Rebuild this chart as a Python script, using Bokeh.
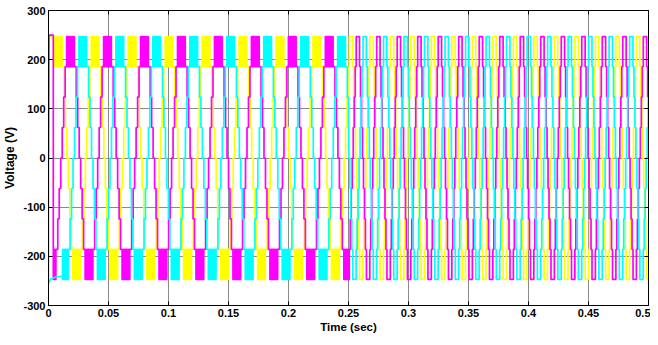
import numpy as np
from bokeh.plotting import figure
from bokeh.models import LinearAxis, FixedTicker, Range1d
from bokeh.embed import file_html
from bokeh.resources import INLINE

# ---- values ----
LEVELS = [0, 62, 124, 186, 247]          # staircase levels (V)
# first part (0 - 0.25 s)
T1 = 0.0308        # period (s)
PEAK1 = 0.0185     # centre of first magenta positive block (s)
TOP1 = 0.22        # fraction of period in chopped top / bottom block
STEP1 = 0.04       # fraction of period per intermediate level
CHOP1 = 10         # pulses inside a chopped block
# second part (0.25 - 0.5 s)
T_SWITCH = 0.25
T2 = 0.01709
PEAK2 = 0.2578
TOP2 = 0.164
STEP2 = 0.048
CHOP2 = 0
T_END = 0.5
# phase offsets, as fraction of a period after the magenta phase
PHASES = {"yellow": 2 / 3, "magenta": 0.0, "cyan": 1 / 3}
COLORS = {"yellow": "#FFFF00", "magenta": "#FF00FF", "cyan": "#00FFFF"}
# start-up transients (time in s, volts)
TRANSIENT_T = {
    "yellow": [0.0, 0.0, 0.002, 0.005],
    "magenta": [0.0, 0.0004, 0.004],
    "cyan": [0.0, 0.0, 0.002, 0.006, 0.0116],
}
TRANSIENT_V = {
    "yellow": [0, 252, 246, 242],
    "magenta": [0, 250, 250],
    "cyan": [0, -255, -246, -242, -240],
}
X_TICKS = [0, 0.05, 0.1, 0.15, 0.2, 0.25, 0.3, 0.35, 0.4, 0.45, 0.5]
X_TICK_LABELS = ["0", "0.05", "0.1", "0.15", "0.2", "0.25", "0.3", "0.35", "0.4", "0.45", "0.5"]
Y_TICKS = [-300, -200, -100, 0, 100, 200, 300]
Y_TICK_LABELS = ["-300", "-200", "-100", "0", "100", "200", "300"]


def block(t, dur, sign, chop):
    if chop == 0:
        return [(t, t + dur, sign * LEVELS[4])]
    n = 2 * chop
    d = dur / n
    return [(t + i * d, t + (i + 1) * d, sign * (LEVELS[4] if i % 2 == 0 else LEVELS[3]))
            for i in range(n)]


def steady(offset, t_from, t_to, period, peak0, top, step, chop):
    down = [LEVELS[3], LEVELS[2], LEVELS[1], LEVELS[0], -LEVELS[1], -LEVELS[2], -LEVELS[3]]
    up = down[::-1]
    peak = peak0 + offset * period
    start = peak - top * period / 2
    k0 = int(np.floor((t_from - start) / period)) - 1
    t = start + k0 * period
    segs = []
    while t < t_to:
        segs += block(t, top * period, 1, chop)
        t += top * period
        for v in down:
            segs.append((t, t + step * period, v))
            t += step * period
        segs += block(t, top * period, -1, chop)
        t += top * period
        for v in up:
            segs.append((t, t + step * period, v))
            t += step * period
    xs, ys = [], []
    for a, b, v in segs:
        a2, b2 = max(a, t_from), min(b, t_to)
        if b2 > a2:
            xs += [a2, b2]
            ys += [v, v]
    return xs, ys


FONT_NARROW = "'Liberation Sans Narrow', 'Liberation Sans', Arial, sans-serif"

p = figure(frame_width=600, frame_height=295, output_backend="svg", toolbar_location=None,
           x_range=Range1d(0, 0.5), y_range=Range1d(-300, 300),
           min_border_left=40, min_border_right=2, min_border_top=10, min_border_bottom=29)
p.outline_line_color = "black"
p.outline_line_width = 1
p.background_fill_color = "white"
p.border_fill_color = "white"

for name in ["yellow", "magenta", "cyan"]:
    off = PHASES[name]
    tt = TRANSIENT_T[name]
    xs = list(tt)
    ys = list(TRANSIENT_V[name])
    x1, y1 = steady(off, tt[-1], T_SWITCH, T1, PEAK1, TOP1, STEP1, CHOP1)
    x2, y2 = steady(off, T_SWITCH, T_END, T2, PEAK2, TOP2, STEP2, CHOP2)
    xs += x1 + x2
    ys += y1 + y2
    p.line(xs, ys, line_color=COLORS[name], line_width=1.7)

xt = FixedTicker(ticks=X_TICKS)
yt = FixedTicker(ticks=Y_TICKS)
p.xaxis.ticker = xt
p.yaxis.ticker = yt
p.xaxis.major_label_overrides = {t: l for t, l in zip(X_TICKS, X_TICK_LABELS)}
p.yaxis.major_label_overrides = {t: l for t, l in zip(Y_TICKS, Y_TICK_LABELS)}
p.xgrid.ticker = xt
p.ygrid.ticker = yt
for g in (p.xgrid, p.ygrid):
    g.grid_line_color = "#8a8a8a"
    g.grid_line_width = 1

for ax in (p.xaxis, p.yaxis):
    ax.major_tick_in = 4
    ax.major_tick_out = 0
    ax.minor_tick_line_color = None
    ax.axis_line_color = "black"
    ax.major_tick_line_color = "black"
    ax.major_label_text_font = FONT_NARROW
    ax.major_label_text_font_style = "bold"
    ax.major_label_text_font_size = "11px"
    ax.major_label_text_color = "black"
    ax.axis_label_text_font_style = "bold"
    ax.axis_label_text_color = "black"

p.xaxis.axis_label = "Time (sec)"
p.xaxis.axis_label_text_font = FONT_NARROW
p.xaxis.axis_label_text_font_size = "11.5px"
p.xaxis.major_label_standoff = 3
p.xaxis.axis_label_standoff = 1
p.yaxis.axis_label = "Voltage (V)"
p.yaxis.axis_label_text_font = "Liberation Sans"
p.yaxis.axis_label_text_font_size = "12px"
p.yaxis.major_label_standoff = 3
p.yaxis.axis_label_standoff = 3

top_ax = LinearAxis(ticker=xt, major_label_overrides={t: "" for t in X_TICKS},
                    major_tick_in=4, major_tick_out=0, major_label_standoff=0,
                    minor_tick_line_color=None, axis_line_color="black")
right_ax = LinearAxis(ticker=yt, major_label_overrides={t: "" for t in Y_TICKS},
                      major_tick_in=4, major_tick_out=0, major_label_standoff=0,
                      minor_tick_line_color=None, axis_line_color="black")
p.add_layout(top_ax, "above")
p.add_layout(right_ax, "right")

open("out.html", "w").write(file_html(p, INLINE))
